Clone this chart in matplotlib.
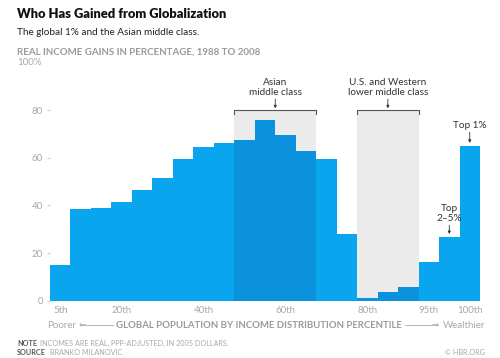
import matplotlib.pyplot as plt

plt.rcParams['font.family'] = ['Lato', 'DejaVu Sans']

# datos: ganancia real de ingreso 1988-2008 por percentil
percentiles = ["5th", "10th", "15th", "20th", "25th", "30th", "35th", "40th", "45th", "50th",
               "55th", "60th", "65th", "70th", "75th", "80th", "85th", "90th", "95th", "99th", "100th"]
ganancias = [15.0, 38.4, 39.1, 41.6, 46.4, 51.7, 59.5, 64.7, 66.1, 67.4,
             75.8, 69.6, 62.9, 59.5, 28.2, 1.3, 3.5, 5.8, 16.4, 26.8, 65.0]
etiquetas_x = ["5th", "20th", "40th", "60th", "80th", "95th", "100th"]
asia = ["50th", "55th", "60th", "65th"]
occidente = ["80th", "85th", "90th"]

azul = "#0aa5ef"
azul_osc = "#0a93dc"
gris_txt = "#a8a8a8"

fig = plt.figure(figsize=(5, 3.58), dpi=100)
ax = fig.add_axes([0.1, 0.16, 0.86, 0.665])

x = list(range(len(percentiles)))
colores = [azul_osc if p in asia + occidente else azul for p in percentiles]

# zonas grises
for grupo in (asia, occidente):
    i0 = percentiles.index(grupo[0]) - 0.5
    i1 = percentiles.index(grupo[-1]) + 0.5
    ax.fill_between([i0, i1], 0, 80, color="#ebebeb", lw=0, zorder=0)
    ax.plot([i0, i0, i1, i1], [78.3, 80, 80, 78.3], color="#555555", lw=0.8, clip_on=False)

ax.bar(x, ganancias, width=1.0, color=colores, lw=0, zorder=2)

ax.set_xlim(-0.5, len(percentiles) - 0.5)
ax.set_ylim(0, 100)
for s in ax.spines.values():
    s.set_visible(False)

ax.set_xticks([percentiles.index(p) for p in etiquetas_x])
ax.set_xticklabels(etiquetas_x)
ax.set_yticks([0, 20, 40, 60, 80])
ax.tick_params(axis="x", length=0, pad=4, labelsize=7, labelcolor=gris_txt)
ax.tick_params(axis="y", length=2, pad=3, labelsize=7, labelcolor=gris_txt, color="#cccccc")

# anotaciones
def nota(texto, xc, ytxt, yflecha):
    ax.text(xc, ytxt, texto, ha="center", va="bottom", fontsize=7.2, color="#333333",
            linespacing=1.15)
    ax.annotate("", xy=(xc, yflecha), xytext=(xc, ytxt - 0.8),
                arrowprops=dict(arrowstyle="-|>", color="#333333", lw=0.6,
                                mutation_scale=4, shrinkA=0, shrinkB=0),
                annotation_clip=False)

nota("Asian\nmiddle class", 10.5, 85.5, 80.8)
nota("U.S. and Western\nlower middle class", 16.0, 85.5, 80.8)
nota("Top 1%", 20, 71.5, 66.3)
nota("Top\n2\u20135%", 19, 32.5, 28.0)

# textos de la figura
fig.text(0.034, 0.978, "Who Has Gained from Globalization", fontsize=9.3,
         fontweight="heavy", color="#111111", va="top")
fig.text(0.034, 0.922, "The global 1% and the Asian middle class.", fontsize=7.2,
         color="#222222", va="top")
fig.text(0.034, 0.868, "REAL INCOME GAINS IN PERCENTAGE, 1988 TO 2008", fontsize=7,
         fontweight="bold", color="#9a9a9a", va="top")
fig.text(0.034, 0.838, "100%", fontsize=7, color=gris_txt, va="top")

fig.text(0.094, 0.092, "Poorer", fontsize=7, color=gris_txt, va="center")
fig.text(0.517, 0.092, "GLOBAL POPULATION BY INCOME DISTRIBUTION PERCENTILE", fontsize=6.9,
         fontweight="bold", color="#9a9a9a", va="center", ha="center")
fig.text(0.97, 0.092, "Wealthier", fontsize=7, color=gris_txt, va="center", ha="right")
fig.add_artist(plt.Line2D([0.16, 0.225], [0.092, 0.092], color=gris_txt, lw=0.6))
fig.add_artist(plt.Line2D([0.81, 0.875], [0.092, 0.092], color=gris_txt, lw=0.6))
fig.text(0.158, 0.092, "\u2190", fontsize=5, color=gris_txt, va="center", ha="left")
fig.text(0.877, 0.092, "\u2192", fontsize=5, color=gris_txt, va="center", ha="right")

fig.text(0.034, 0.03, "NOTE", fontsize=5.2, fontweight="bold", color="#555555", va="bottom")
fig.text(0.08, 0.03, "INCOMES ARE REAL, PPP-ADJUSTED, IN 2005 DOLLARS.", fontsize=5.2,
         color=gris_txt, va="bottom")
fig.text(0.034, 0.005, "SOURCE", fontsize=5.2, fontweight="bold", color="#555555", va="bottom")
fig.text(0.1, 0.005, "BRANKO MILANOVIC", fontsize=5.2, color=gris_txt, va="bottom")
fig.text(0.97, 0.005, "\u00a9 HBR.ORG", fontsize=5.2, color=gris_txt, va="bottom", ha="right")

plt.savefig("out.png", dpi=100)
